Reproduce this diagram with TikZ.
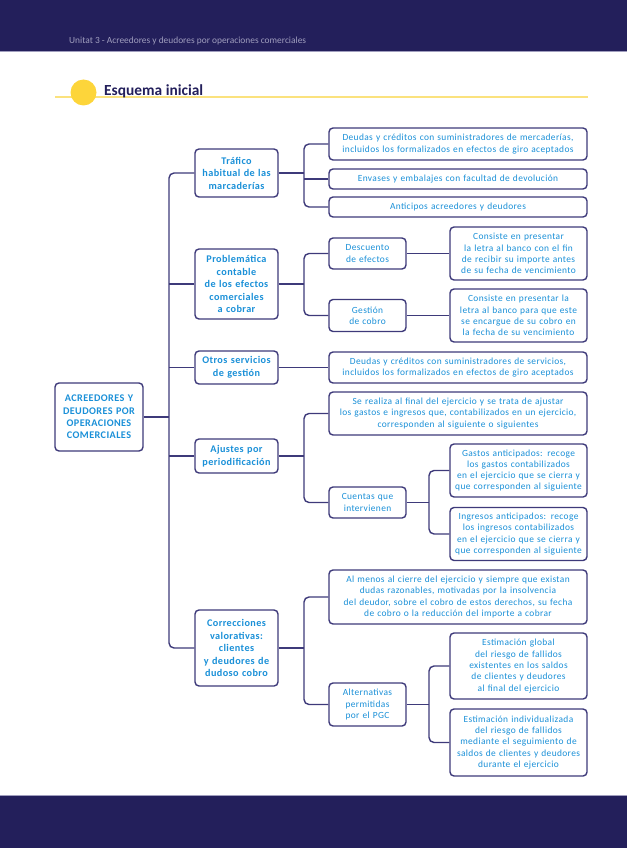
\documentclass[tikz,border=0pt]{standalone}
\usepackage{fontspec}
\setmainfont{Carlito}
\newfontfamily\boxfont{Carlito}[LetterSpace=4]
\usepackage{xcolor}
\usepackage{tikz}
\usetikzlibrary{positioning}
\definecolor{navy}{HTML}{231F5B}
\definecolor{edge}{HTML}{3E3A7A}
\definecolor{ink}{HTML}{1A90D8}
\definecolor{sun}{HTML}{FDD53A}
\definecolor{sunline}{HTML}{FBE27E}
\definecolor{rule}{HTML}{A09EBE}

\begin{document}
\begin{tikzpicture}[x=1pt, y=-1pt,
    box/.style={draw=edge, line width=1.4pt, rounded corners=4pt, fill=white,
      text=ink, align=center, inner xsep=2pt, inner ysep=1pt,
      font=\boxfont\fontsize{9.4}{11.3}\selectfont},
    rootbox/.style={box, text width=84pt, minimum height=68pt,
      font=\boxfont\bfseries\fontsize{10.2}{12.3}\selectfont},
    catbox/.style={box, text width=79pt, font=\boxfont\bfseries\fontsize{10.2}{12.5}\selectfont},
    widebox/.style={box, text width=254pt},
    smallbox/.style={box, text width=73pt},
    notebox/.style={box, text width=133pt},
    conn/.style={draw=edge, line width=1.4pt}]
    \useasboundingbox (0,0) rectangle (627,848);

    % Page bands
    \fill[navy] (0,0) rectangle (627,51);
    \draw[rule, line width=1.2pt] (0,51.8) -- (627,51.8);
    \node[anchor=west, inner xsep=0pt, text=rule, font=\fontsize{9.4}{10}\selectfont] (head) at (69,41)
      {Unitat 3 - Acreedores y deudores por operaciones comerciales};
    \fill[navy] (0,796) rectangle (627,848);
    \draw[rule, line width=1.2pt] (0,795.5) -- (627,795.5);

    % Title
    \draw[sunline, line width=2pt] (55,97) -- (588,97);
    \fill[sun] (83.5,92.5) circle (13);
    \node[anchor=west, inner xsep=0pt, text=navy, font=\bfseries\fontsize{15.4}{17}\selectfont] (title) at (104,91)
      {Esquema inicial};

    % Root and first level
    \node[rootbox] (root) at (99,417) {ACREEDORES Y\\DEUDORES POR\\OPERACIONES\\COMERCIALES};
    \node[catbox, minimum height=48pt] (traf) at (236.5,173) {Tráfico\\habitual de las\\marcaderías};
    \node[catbox, minimum height=70pt] (prob) at (236.5,284) {Problemática\\contable\\de los efectos\\comerciales\\a cobrar};
    \node[catbox, minimum height=33pt] (otros) at (236.5,367.5) {Otros servicios\\de gestión};
    \node[catbox, minimum height=34pt] (ajus) at (236.5,456) {Ajustes por\\periodificación};
    \node[catbox, minimum height=76pt] (corr) at (236.5,648) {Correcciones\\valorativas:\\clientes\\y deudores de\\dudoso cobro};

    % Second level
    \node[widebox, minimum height=32pt] (deum) at (458,144)
      {Deudas y créditos con suministradores de mercaderías,\\incluidos los formalizados en efectos de giro aceptados};
    \node[widebox, minimum height=20pt] (env) at (458,179) {Envases y embalajes con facultad de devolución};
    \node[widebox, minimum height=20pt] (anti) at (458,207) {Anticipos acreedores y deudores};
    \node[smallbox, minimum height=31pt] (desc) at (367.5,253.5) {Descuento\\de efectos};
    \node[smallbox, minimum height=32pt] (gest) at (367.5,315.5) {Gestión\\de cobro};
    \node[widebox, minimum height=31pt] (serv) at (458,367.5)
      {Deudas y créditos con suministradores de servicios,\\incluidos los formalizados en efectos de giro aceptados};
    \node[widebox, minimum height=43pt] (real) at (458,413.5)
      {Se realiza al final del ejercicio y se trata de ajustar\\los gastos e ingresos que, contabilizados en un ejercicio,\\corresponden al siguiente o siguientes};
    \node[smallbox, minimum height=31pt] (cuen) at (367.5,502.5) {Cuentas que\\intervienen};
    \node[widebox, minimum height=54pt] (almen) at (458,597)
      {Al menos al cierre del ejercicio y siempre que existan\\dudas razonables, motivadas por la insolvencia\\del deudor, sobre el cobro de estos derechos, su fecha\\de cobro o la reducción del importe a cobrar};
    \node[smallbox, minimum height=43pt] (alter) at (367.5,704.5) {Alternativas\\permitidas\\por el PGC};

    % Third level
    \node[notebox, minimum height=53pt] (cons1) at (518.5,253.5)
      {Consiste en presentar\\la letra al banco con el fin\\de recibir su importe antes\\de su fecha de vencimiento};
    \node[notebox, minimum height=53pt] (cons2) at (518.5,315.5)
      {Consiste en presentar la\\letra al banco para que este\\se encargue de su cobro en\\la fecha de su vencimiento};
    \node[notebox, minimum height=53pt] (gast) at (518.5,470.5)
      {Gastos anticipados: recoge\\los gastos contabilizados\\en el ejercicio que se cierra y\\que corresponden al siguiente};
    \node[notebox, minimum height=53pt] (ingr) at (518.5,534)
      {Ingresos anticipados: recoge\\los ingresos contabilizados\\en el ejercicio que se cierra y\\que corresponden al siguiente};
    \node[notebox, minimum height=66pt] (glob) at (518.5,666)
      {Estimación global\\del riesgo de fallidos\\existentes en los saldos\\de clientes y deudores\\al final del ejercicio};
    \node[notebox, minimum height=67pt] (indiv) at (518.5,742.5)
      {Estimación individualizada\\del riesgo de fallidos\\mediante el seguimiento de\\saldos de clientes y deudores\\durante el ejercicio};

    % Junctions
    \coordinate (trunk) at (169,417);
    \coordinate (jtraf) at (304,173);
    \coordinate (jprob) at (304,284);
    \coordinate (jajus) at (304,456);
    \coordinate (jcorr) at (304,648);
    \coordinate (jcuen) at (429,502.5);
    \coordinate (jalter) at (429,704.5);

    % Connectors
    \draw[conn] (root.east) -- (trunk);
    \draw[conn, rounded corners=5pt] (traf.west) -| (trunk) |- (corr.west);
    \foreach \n in {prob, otros, ajus}
      \draw[conn] (\n.west) -- (\n.west -| trunk);

    \draw[conn] (traf.east) -- (jtraf);
    \draw[conn, rounded corners=5pt] (deum.west) -| (jtraf) |- (anti.west);
    \draw[conn] (env.west) -- (env.west -| jtraf);

    \draw[conn] (prob.east) -- (jprob);
    \draw[conn, rounded corners=5pt] (desc.west) -| (jprob) |- (gest.west);
    \draw[conn] (desc.east) -- (cons1.west);
    \draw[conn] (gest.east) -- (cons2.west);

    \draw[conn] (otros.east) -- (serv.west);

    \draw[conn] (ajus.east) -- (jajus);
    \draw[conn, rounded corners=5pt] (real.west) -| (jajus) |- (cuen.west);
    \draw[conn] (cuen.east) -- (jcuen);
    \draw[conn, rounded corners=5pt] (gast.west) -| (jcuen) |- (ingr.west);

    \draw[conn] (corr.east) -- (jcorr);
    \draw[conn, rounded corners=5pt] (almen.west) -| (jcorr) |- (alter.west);
    \draw[conn] (alter.east) -- (jalter);
    \draw[conn, rounded corners=5pt] (glob.west) -| (jalter) |- (indiv.west);
\end{tikzpicture}
\end{document}
